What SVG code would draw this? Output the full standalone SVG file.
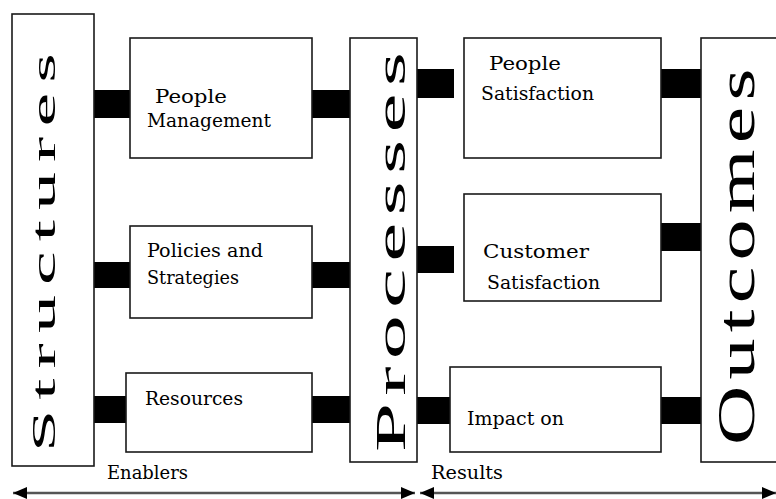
<svg xmlns="http://www.w3.org/2000/svg" width="776" height="499" viewBox="0 0 776 499">
<style>
.box{fill:#fff;stroke:#1a1a1a;stroke-width:1.6}
.bar{fill:#000}
.lbl{font-family:"DejaVu Serif","Liberation Serif",serif;font-size:19px;fill:#000}
.big{font-family:"Liberation Serif","Times New Roman",serif;fill:#000}
.arr{stroke:#555;stroke-width:2.5;fill:none}
</style>
<defs>
<marker id="ah" viewBox="0 0 14 12" refX="14" refY="6" markerWidth="14" markerHeight="12" markerUnits="userSpaceOnUse" orient="auto-start-reverse">
<path d="M0,0 L14,6 L0,12 Z" fill="#000"/>
</marker>
</defs>
<rect width="776" height="499" fill="#fff"/>
<g id="connectors">
<rect class="bar" x="94" y="90" width="37" height="28"/>
<rect class="bar" x="311" y="90" width="40" height="28"/>
<rect class="bar" x="94" y="262" width="37" height="26"/>
<rect class="bar" x="311" y="262" width="40" height="26"/>
<rect class="bar" x="89" y="396" width="38" height="27"/>
<rect class="bar" x="311" y="396" width="40" height="27"/>
<rect class="bar" x="416" y="69" width="38" height="29"/>
<rect class="bar" x="660" y="69" width="41" height="29"/>
<rect class="bar" x="416" y="246" width="38" height="27"/>
<rect class="bar" x="660" y="223" width="41" height="28"/>
<rect class="bar" x="412" y="397" width="39" height="27"/>
<rect class="bar" x="660" y="397" width="41" height="27"/>
<line class="arr" x1="13" y1="493" x2="415" y2="493" marker-start="url(#ah)" marker-end="url(#ah)"/>
<line class="arr" x1="420" y1="493" x2="776" y2="493" marker-start="url(#ah)" marker-end="url(#ah)"/>
</g>
<g id="structures">
<rect class="box" x="12" y="14" width="82" height="452"/>
<text class="big" font-size="33" letter-spacing="4.4" transform="translate(55,452) rotate(-90) scale(2.3,1)">Structures</text>
</g>
<g id="people-management">
<rect class="box" x="130" y="38" width="182" height="120"/>
<text class="lbl" x="155" y="103" textLength="72" lengthAdjust="spacingAndGlyphs">People</text>
<text class="lbl" x="147" y="127" textLength="124" lengthAdjust="spacingAndGlyphs">Management</text>
</g>
<g id="policies-strategies">
<rect class="box" x="130" y="226" width="182" height="92"/>
<text class="lbl" x="147" y="257" textLength="116" lengthAdjust="spacingAndGlyphs">Policies and</text>
<text class="lbl" x="147" y="284" textLength="92" lengthAdjust="spacingAndGlyphs">Strategies</text>
</g>
<g id="resources">
<rect class="box" x="126" y="373" width="186" height="79"/>
<text class="lbl" x="145" y="405" textLength="98" lengthAdjust="spacingAndGlyphs">Resources</text>
</g>
<g id="processes">
<rect class="box" x="350" y="38" width="67" height="424"/>
<text class="big" font-size="42" letter-spacing="3.4" transform="translate(405,452) rotate(-90) scale(2.1,1)">Processes</text>
</g>
<g id="people-satisfaction">
<rect class="box" x="464" y="38" width="197" height="120"/>
<text class="lbl" x="489" y="70" textLength="72" lengthAdjust="spacingAndGlyphs">People</text>
<text class="lbl" x="481" y="100" textLength="113" lengthAdjust="spacingAndGlyphs">Satisfaction</text>
</g>
<g id="customer-satisfaction">
<rect class="box" x="464" y="194" width="197" height="107"/>
<text class="lbl" x="483" y="258" textLength="106" lengthAdjust="spacingAndGlyphs">Customer</text>
<text class="lbl" x="487" y="289" textLength="113" lengthAdjust="spacingAndGlyphs">Satisfaction</text>
</g>
<g id="impact">
<rect class="box" x="450" y="367" width="211" height="85"/>
<text class="lbl" x="467" y="425" textLength="97" lengthAdjust="spacingAndGlyphs">Impact on</text>
</g>
<g id="outcomes">
<rect class="box" x="701" y="38" width="90" height="424"/>
<text class="big" font-size="53" letter-spacing="4" transform="translate(754,445) rotate(-90) scale(1.55,1)">Outcomes</text>
</g>
<g id="axis-labels">
<text class="lbl" x="107" y="479" textLength="81" lengthAdjust="spacingAndGlyphs">Enablers</text>
<text class="lbl" x="431" y="479" textLength="72" lengthAdjust="spacingAndGlyphs">Results</text>
</g>
</svg>
